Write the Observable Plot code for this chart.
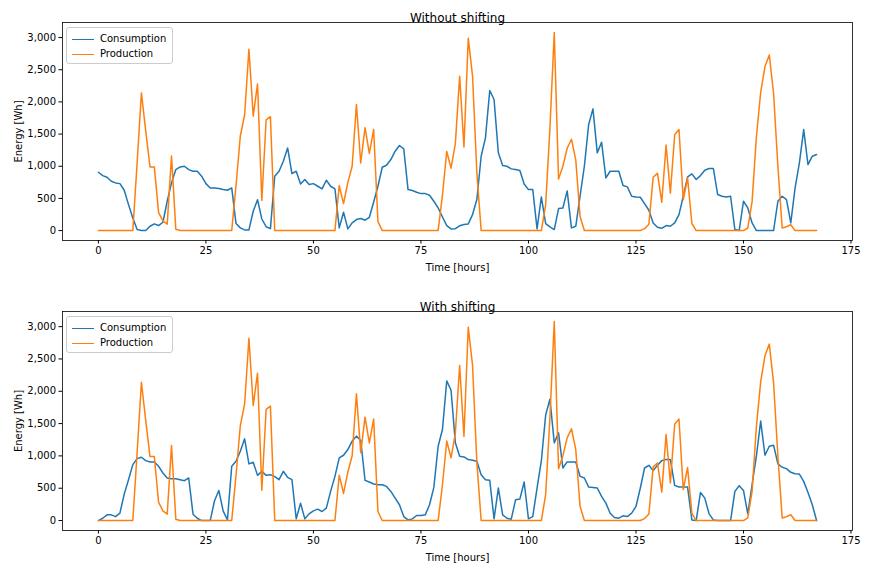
<!DOCTYPE html>
<html><head><meta charset="utf-8">
<script src="https://cdn.jsdelivr.net/npm/d3@7"></script>
<script src="https://cdn.jsdelivr.net/npm/@observablehq/plot@0.6"></script>
<style>
body{margin:0;background:#fff;font-family:"DejaVu Sans",sans-serif;}
#wrap{position:relative;width:871px;height:570px;}
.panel{position:absolute;left:0;}
.legend{position:absolute;border:1px solid #ccc;border-radius:3px;background:rgba(255,255,255,0.85);font-size:10px;padding:3px 6px 2px 5px;line-height:15px;}
.legend span.sw{display:inline-block;width:22px;height:0;border-top:1.6px solid;vertical-align:middle;margin-right:6px;}
</style></head>
<body><div id="wrap"></div>
<script>
const hours = d3.range(168);
const production = [0,0,0,0,0,0,0,0,0,
1050,2140,1550,990,990,280,150,100,1160,20,
0,0,0,0,0,0,0,0,0,0,0,0,0,
700,1470,1800,2820,1780,2280,470,1720,1770,
0,0,0,0,0,0,0,0,0,0,0,0,0,0,0,
700,420,750,1000,1960,1050,1600,1200,1570,140,
0,0,0,0,0,0,0,0,0,0,0,0,0,0,
550,1230,970,1350,2400,1300,2990,2400,900,
0,0,0,0,0,0,0,0,0,0,0,0,0,0,0,
400,1600,3080,800,1000,1280,1420,1100,220,
0,0,0,0,0,0,0,0,0,0,0,0,0,0,
30,100,830,890,440,1330,580,1490,1570,480,820,110,
0,0,0,0,0,0,0,0,0,0,0,0,
40,450,1450,2150,2550,2730,2130,1000,40,60,90,
0,0,0,0,0,0];
const consumptionWithout = [907,855,829,767,741,730,627,404,197,
16,0,0,67,104,78,130,
456,741,948,990,1000,948,922,922,845,730,663,663,653,637,627,663,
109,42,10,10,300,480,180,60,30,
845,922,1078,1285,886,922,725,793,715,730,689,648,783,689,648,
42,285,26,119,171,187,161,207,440,689,985,1016,1104,1234,1322,1270,
637,622,596,575,575,550,456,352,212,78,26,30,75,95,
104,249,482,1156,1441,2177,2037,1208,1011,1000,959,948,933,725,637,637,26,523,109,57,16,342,352,617,42,67,534,1000,1648,1892,1208,1374,819,922,922,922,700,679,534,523,518,420,316,119,52,36,78,67,119,249,534,835,881,793,855,938,964,964,560,534,523,534,16,0,456,352,119,0,0,0,0,0,456,534,482,119,663,1052,1570,1026,1156,1182];
const consumptionWith = [0,36,88,88,60,114,409,632,865,958,979,927,907,907,839,736,658,648,648,632,617,658,98,36,0,0,0,306,466,150,10,839,917,1073,1264,876,902,699,762,699,710,679,632,762,668,632,26,269,26,104,150,176,140,192,451,684,969,1010,1098,1228,1306,1238,622,596,565,554,554,528,451,347,244,62,10,26,78,78,88,244,513,1150,1409,2160,2015,1202,995,984,943,933,917,710,632,622,26,503,88,36,21,321,332,596,26,62,503,927,1632,1876,1202,1357,813,907,907,907,684,658,518,513,503,373,269,114,47,36,73,62,114,218,500,813,855,772,855,927,943,943,544,518,518,518,10,0,435,347,104,10,0,0,0,0,451,539,466,104,554,995,1539,1010,1150,1166,876,824,803,746,725,720,606,435,244,0];
const xTicks = [0,25,50,75,100,125,150,175];
const yTicks = [0,500,1000,1500,2000,2500,3000];
const seriesNames = ["Consumption","Production"];
const colors = ["#1f77b4","#ff7f0e"];

function panel(title, cons, top, h, mb){
  const data = [];
  hours.forEach((t,i)=>{data.push({t,v:cons[i],s:seriesNames[0]});});
  hours.forEach((t,i)=>{data.push({t,v:production[i],s:seriesNames[1]});});
  const p = Plot.plot({
    width:871, height:h, marginLeft:62, marginRight:19, marginTop:22, marginBottom:mb,
    style:{fontFamily:"DejaVu Sans, sans-serif", fontSize:"10px", color:"#000", background:"#fff"},
    x:{domain:[-8.35,175.35]},
    y:{domain:[-154,3234]},
    color:{domain:seriesNames, range:colors},
    marks:[
      Plot.axisX({ticks:xTicks, tickSize:3.5, tickPadding:3, label:"Time [hours]", labelAnchor:"center", labelArrow:"none", labelOffset:30, fontSize:10}),
      Plot.axisY({ticks:yTicks, tickSize:3.5, tickPadding:3, label:"Energy [Wh]", labelAnchor:"center", labelArrow:"none", labelOffset:48, fontSize:10}),
      Plot.line(data,{x:"t",y:"v",z:"s",stroke:"s",strokeWidth:1.5}),
      Plot.frame({stroke:"#000", strokeWidth:0.8}),
      Plot.text([title],{frameAnchor:"top", dy:-9, fontSize:12, text:d=>d})
    ]
  });
  const div = document.createElement("div");
  div.className="panel"; div.style.top=top+"px";
  div.appendChild(p);
  const lg = document.createElement("div");
  lg.className="legend"; lg.style.left="66px"; lg.style.top="27px";
  lg.innerHTML = seriesNames.map((n,i)=>`<div><span class="sw" style="border-color:${colors[i]}"></span>${n}</div>`).join("");
  div.appendChild(lg);
  document.getElementById("wrap").appendChild(div);
}
panel("Without shifting", consumptionWithout, 0, 285, 45);
panel("With shifting", consumptionWith, 289, 281, 40);
</script></body></html>
